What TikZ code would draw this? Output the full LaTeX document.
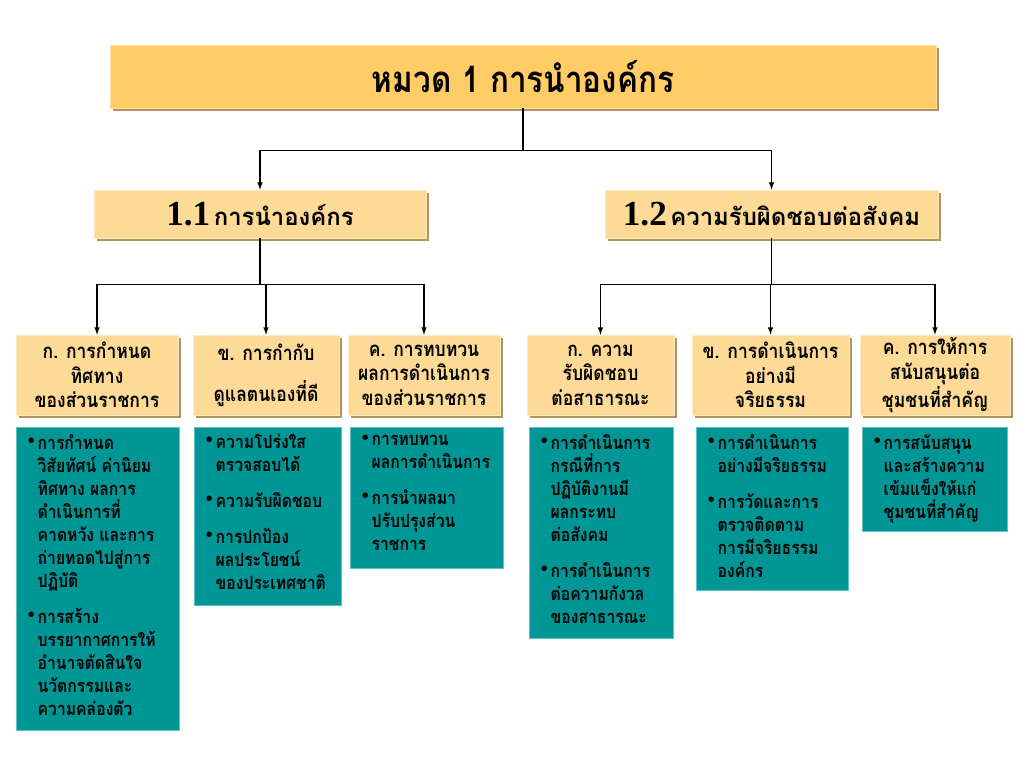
\documentclass[tikz,border=0pt]{standalone}
\usepackage{fontspec}
\setmainfont{Liberation Serif}
\newfontfamily\thaifont[Script=Thai]{Loma}
\newfontfamily\thaicond[Script=Thai, FakeStretch=0.86]{Loma}
\newfontfamily\symfont{DejaVu Sans}
\usepackage{tikz}
\usetikzlibrary{shadows}

\definecolor{titlegold}{RGB}{255,204,102}
\definecolor{boxsand}{RGB}{253,218,150}
\definecolor{shadowtan}{RGB}{176,148,96}
\definecolor{tealbox}{RGB}{0,150,150}

\newcommand{\bul}{\makebox[8pt][l]{\raisebox{0.3ex}{\symfont\fontsize{11}{11}\selectfont •}}}
\newcommand{\ind}{\hspace*{8pt}}

\begin{document}
\begin{tikzpicture}[x=0.025cm, y=-0.025cm, >=latex, line width=0.8pt,
    sandshadow/.style={drop shadow={shadow xshift=2.2pt, shadow yshift=-2.2pt, fill=shadowtan, opacity=1}},
    headbox/.style={fill=titlegold, draw=titlegold!60!white, line width=0.5pt, sandshadow, inner sep=0pt,
        minimum width=20.65cm, minimum height=1.575cm},
    subbox/.style={fill=boxsand, draw=boxsand!60!white, line width=0.5pt, sandshadow, inner sep=0pt,
        minimum height=1.2cm},
    itembox/.style={fill=boxsand, draw=boxsand!60!white, line width=0.5pt, sandshadow, inner sep=0pt,
        minimum height=2cm, align=center, font=\thaicond\bfseries\fontsize{14.5}{17.5}\selectfont},
    tealpanel/.style={fill=tealbox, draw=tealbox!60!white, line width=0.5pt, anchor=north west, inner sep=0pt},
    tealtext/.style={anchor=north west, align=left, inner sep=0pt, xshift=7pt, yshift=-5pt,
        font=\thaicond\bfseries\fontsize{13}{16.4}\selectfont}]
    \useasboundingbox (0,0) rectangle (1024,768);

    % Title
    \node[headbox] (top) at (523,76.5) {\thaicond\bfseries\fontsize{26}{30}\selectfont หมวด 1 การนำองค์กร};

    % Second level
    \node[subbox, minimum width=8.3cm] (s11) at (260,214)
        {{\bfseries\fontsize{25}{25}\selectfont 1.1} {\thaifont\bfseries\fontsize{17}{20}\selectfont การนำองค์กร}};
    \node[subbox, minimum width=8.325cm] (s12) at (771.5,214)
        {{\bfseries\fontsize{25}{25}\selectfont 1.2} {\thaifont\bfseries\fontsize{17}{20}\selectfont ความรับผิดชอบต่อสังคม}};

    % Third level
    \foreach \n/\x/\w/\txt in {1/97/4.05/{ก. การกำหนด\\ทิศทาง\\ของส่วนราชการ},
                              2/266/3.65/{ข. การกำกับ\\[12pt]ดูแลตนเองที่ดี},
                              3/424/3.8/{ค. การทบทวน\\ผลการดำเนินการ\\ของส่วนราชการ},
                              4/600.5/3.675/{ก. ความ\\รับผิดชอบ\\ต่อสาธารณะ},
                              5/770.5/3.925/{ข. การดำเนินการ\\อย่างมี\\จริยธรรม},
                              6/935/3.75/{ค. การให้การ\\สนับสนุนต่อ\\ชุมชนที่สำคัญ}}
    {
        \node[itembox, minimum width=\w cm] (k\n) at (\x,375) {\txt};
    }

    % Teal panels
    \foreach \n/\x/\w/\h in {1/16/4.075/7.575, 2/194/3.675/4.45, 3/350/3.825/3.525,
                             4/529/3.6/5.275, 5/696/3.8/4.075, 6/862/3.625/2.6}
    {
        \node[tealpanel, minimum width=\w cm, minimum height=\h cm] (t\n) at (\x,427) {};
    }

    \node[tealtext] (t1txt) at (t1.north west) {\bul การกำหนด\\\ind วิสัยทัศน์ ค่านิยม\\\ind ทิศทาง ผลการ\\\ind ดำเนินการที่\\\ind คาดหวัง และการ\\\ind ถ่ายทอดไปสู่การ\\\ind ปฏิบัติ\\[9pt]\bul การสร้าง\\\ind บรรยากาศการให้\\\ind อำนาจตัดสินใจ\\\ind นวัตกรรมและ\\\ind ความคล่องตัว};
    \node[tealtext] (t2txt) at (t2.north west) {\bul ความโปร่งใส\\\ind ตรวจสอบได้\\[9pt]\bul ความรับผิดชอบ\\[9pt]\bul การปกป้อง\\\ind ผลประโยชน์\\\ind ของประเทศชาติ};
    \node[tealtext] (t3txt) at (t3.north west) {\bul การทบทวน\\\ind ผลการดำเนินการ\\[9pt]\bul การนำผลมา\\\ind ปรับปรุงส่วน\\\ind ราชการ};
    \node[tealtext] (t4txt) at (t4.north west) {\bul การดำเนินการ\\\ind กรณีที่การ\\\ind ปฏิบัติงานมี\\\ind ผลกระทบ\\\ind ต่อสังคม\\[9pt]\bul การดำเนินการ\\\ind ต่อความกังวล\\\ind ของสาธารณะ};
    \node[tealtext] (t5txt) at (t5.north west) {\bul การดำเนินการ\\\ind อย่างมีจริยธรรม\\[9pt]\bul การวัดและการ\\\ind ตรวจติดตาม\\\ind การมีจริยธรรม\\\ind องค์กร};
    \node[tealtext] (t6txt) at (t6.north west) {\bul การสนับสนุน\\\ind และสร้างความ\\\ind เข้มแข็งให้แก่\\\ind ชุมชนที่สำคัญ};

    % Connectors
    \draw[->] (top.south) -- ++(0,42) -| (s11.north);
    \draw[->] (top.south) -- ++(0,42) -| (s12.north);
    \foreach \k in {1,2,3}
        \draw[->] (s11.south) -- ++(0,46) -| (k\k.north);
    \foreach \k in {4,5,6}
        \draw[->] (s12.south) -- ++(0,46) -| (k\k.north);
\end{tikzpicture}
\end{document}
